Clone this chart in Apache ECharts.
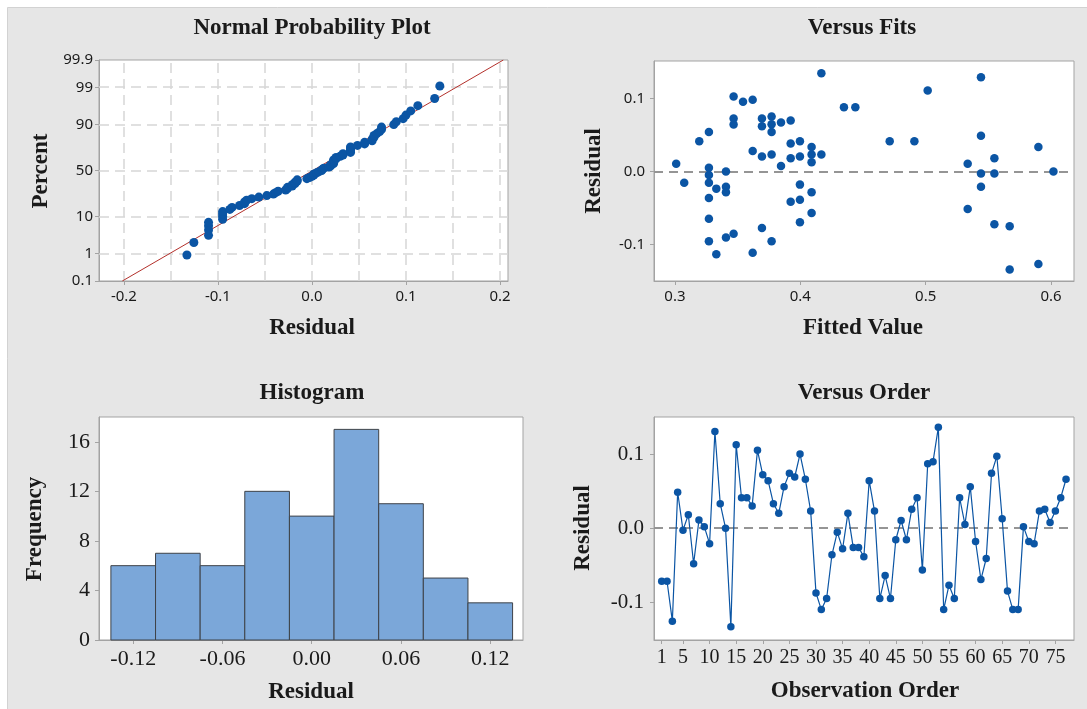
<!DOCTYPE html>
<html>
<head>
<meta charset="utf-8">
<script src="https://cdn.jsdelivr.net/npm/echarts@6/dist/echarts.min.js"></script>
<style>
  html, body { margin: 0; padding: 0; background: #fff; }
  #chart { width: 1087px; height: 709px; }
</style>
</head>
<body>
<div id="chart"></div>
<script>
// residuals in observation order
const orderResiduals = [
  -0.0717, -0.0717, -0.1256, 0.0484, -0.0027, 0.018, -0.048, 0.011, 0.002, -0.021,
  0.1305, 0.033, 0.0, -0.133, 0.1126, 0.041, 0.041, 0.030, 0.105, 0.072,
  0.064, 0.033, 0.020, 0.056, 0.074, 0.069, 0.100, 0.066, 0.023, -0.0874,
  -0.110, -0.095, -0.036, -0.0054, -0.028, 0.020, -0.026, -0.026, -0.0386, 0.064,
  0.023, -0.095, -0.064, -0.095, -0.0157, 0.0103, -0.0157, 0.0256, 0.041, -0.0565,
  0.087, 0.0897, 0.136, -0.110, -0.077, -0.095, 0.041, 0.005, 0.056, -0.018,
  -0.0695, -0.041, 0.074, 0.097, 0.0126, -0.085, -0.110, -0.110, 0.002, -0.018,
  -0.021, 0.023, 0.0256, 0.0076, 0.023, 0.041, 0.066
]

// versus fits points
const fittedValues = [
  0.301, 0.3074, 0.3194, 0.3271, 0.3271, 0.3271, 0.3271, 0.3271, 0.3271, 0.3271,
  0.333, 0.333, 0.3407, 0.3407, 0.3407, 0.3407, 0.3468, 0.3468, 0.3468, 0.3468,
  0.3543, 0.362, 0.362, 0.362, 0.3694, 0.3694, 0.3694, 0.3694, 0.3771, 0.3771,
  0.3771, 0.3771, 0.3771, 0.3846, 0.3846, 0.3923, 0.3923, 0.3923, 0.3923, 0.3997,
  0.3997, 0.3997, 0.3997, 0.3997, 0.409, 0.409, 0.409, 0.409, 0.409, 0.4168,
  0.4168, 0.4348, 0.4439, 0.4713, 0.491, 0.5016, 0.5335, 0.5335, 0.5441, 0.5441,
  0.5441, 0.5441, 0.5548, 0.5548, 0.5548, 0.567, 0.567, 0.5899, 0.5899, 0.6019
]
const fitResiduals = [
  0.0104, -0.0154, 0.0413, 0.054, 0.005, -0.005, -0.0154, -0.0363, -0.0649, -0.0957,
  -0.0236, -0.1138, 0.0, -0.0209, -0.0286, -0.0907, 0.103, 0.0726, 0.0644, -0.0857,
  0.0957, 0.0984, 0.0281, -0.1116, 0.0726, 0.0621, 0.0204, -0.0776, 0.0753, 0.0649,
  0.054, 0.0231, -0.0957, 0.0671, 0.0073, 0.0698, 0.0385, 0.0181, -0.0417, 0.0413,
  0.0204, -0.0181, -0.039, -0.0698, 0.0336, 0.0231, 0.0127, -0.0286, -0.0571, 0.1347,
  0.0231, 0.088, 0.088, 0.0413, 0.0413, 0.1111, 0.0104, -0.0517, 0.1293, 0.049,
  -0.0027, -0.0209, 0.0181, -0.0027, -0.0726, -0.0753, -0.1347, 0.0336, -0.127, 0.0
]

// histogram
const binCenters = [-0.12, -0.09, -0.06, -0.03, 0.0, 0.03, 0.06, 0.09, 0.12]
const binCounts = [6, 7, 6, 12, 10, 17, 11, 5, 3]
const binWidth = 0.03

// normal probability plot: fitted line ends and tick labels
const fitLineResid = [-0.2017, 0.2035]
const fitLinePct = [0.1, 99.9]
const pctTicks = [0.1, 1, 10, 50, 90, 99, 99.9]
const pctGrid = [1, 10, 50, 90, 99]
const residTicks = [-0.2, -0.1, 0.0, 0.1, 0.2]
const residGrid = [-0.2, -0.15, -0.1, -0.05, 0.0, 0.05, 0.1, 0.15, 0.2]

const fitTicks = [0.3, 0.4, 0.5, 0.6]
const residTicks3 = [-0.1, 0.0, 0.1]
const histTicks = [-0.12, -0.06, 0.0, 0.06, 0.12]
const freqTicks = [0, 4, 8, 12, 16]
const orderTicks = [1, 5, 10, 15, 20, 25, 30, 35, 40, 45, 50, 55, 60, 65, 70, 75]

// inverse normal cdf (Acklam), used as the probability scale
const normInv = (p) => {
  const a = [-39.69683028665376, 220.9460984245205, -275.9285104469687, 138.357751867269, -30.66479806614716, 2.506628277459239]
  const b = [-54.47609879822406, 161.5858368580409, -155.6989798598866, 66.80131188771972, -13.28068155288572]
  const c = [-0.007784894002430293, -0.3223964580411365, -2.400758277161838, -2.549732539343734, 4.374664141464968, 2.938163982698783]
  const d = [0.007784695709041462, 0.3224671290700398, 2.445134137142996, 3.754408661907416]
  const pl = 0.02425
  if (p < pl) {
    const q = Math.sqrt(-2 * Math.log(p))
    return (((((c[0] * q + c[1]) * q + c[2]) * q + c[3]) * q + c[4]) * q + c[5]) / ((((d[0] * q + d[1]) * q + d[2]) * q + d[3]) * q + 1)
  }
  if (p > 1 - pl) {
    const q = Math.sqrt(-2 * Math.log(1 - p))
    return -(((((c[0] * q + c[1]) * q + c[2]) * q + c[3]) * q + c[4]) * q + c[5]) / ((((d[0] * q + d[1]) * q + d[2]) * q + d[3]) * q + 1)
  }
  const q = p - 0.5
  const r = q * q
  return (((((a[0] * r + a[1]) * r + a[2]) * r + a[3]) * r + a[4]) * r + a[5]) * q / (((((b[0] * r + b[1]) * r + b[2]) * r + b[3]) * r + b[4]) * r + 1)
}
const zOf = (pct) => normInv(pct / 100)

// sorted residuals with median-rank plotting positions
const sortedResid = orderResiduals.slice().sort((x, y) => x - y)
const n = sortedResid.length
const probData = sortedResid.map((r, i) => [r, zOf((i + 1 - 0.3) / (n + 0.4) * 100)])

const BLUE = '#0b55a4'
const FRAME = '#a3a3a3'
const TEXT = '#1a1a1a'
const SERIF = '"Liberation Serif", "DejaVu Serif", serif'
const SANS = '"Noto Sans", "Open Sans", sans-serif'

const zMax = zOf(99.9)

const frame = { show: true, borderColor: FRAME, borderWidth: 1, backgroundColor: '#fff' }
const sansLabel = { fontFamily: SANS, fontSize: 15, color: TEXT }
const serifLabel = { fontFamily: SERIF, fontSize: 21, color: TEXT }
const tick = (values) => ({ show: true, customValues: values, length: 4, lineStyle: { color: FRAME } })
const line = { show: true, onZero: false, lineStyle: { color: FRAME } }

const textEl = (text, x, y, rotate) => ({
  type: 'text',
  x,
  y,
  rotation: rotate ? Math.PI / 2 : 0,
  style: {
    text,
    fill: TEXT,
    font: 'bold 23px ' + SERIF,
    textAlign: 'center',
    textVerticalAlign: 'middle'
  }
})

const chart = echarts.init(document.getElementById('chart'))
chart.setOption({
  animation: false,
  backgroundColor: '#fff',
  graphic: [
    { type: 'rect', z: -10, shape: { x: 7.5, y: 7.5, width: 1100, height: 720 }, style: { fill: '#e6e6e6', stroke: '#d2d2d2' } },
    textEl('Normal Probability Plot', 312, 28),
    textEl('Versus Fits', 862, 28),
    textEl('Histogram', 312, 393),
    textEl('Versus Order', 864, 393),
    textEl('Residual', 312, 328),
    textEl('Fitted Value', 863, 328),
    textEl('Residual', 311, 692),
    textEl('Observation Order', 865, 691),
    textEl('Percent', 41, 171, true),
    textEl('Residual', 594, 171, true),
    textEl('Frequency', 35, 529, true),
    textEl('Residual', 583, 528, true)
  ],
  grid: [
    { left: 99, top: 60, width: 409, height: 221, ...frame },
    { left: 654, top: 61, width: 420, height: 220, ...frame },
    { left: 99, top: 417, width: 424, height: 223, ...frame },
    { left: 654, top: 417, width: 420, height: 223, ...frame }
  ],
  xAxis: [
    {
      gridIndex: 0, type: 'value', min: -0.2265, max: 0.2085,
      axisLine: line, splitLine: { show: false }, axisTick: tick(residTicks),
      axisLabel: { ...sansLabel, customValues: residTicks, margin: 8, formatter: (v) => v.toFixed(1) }
    },
    {
      gridIndex: 1, type: 'value', min: 0.2833, max: 0.6183,
      axisLine: line, splitLine: { show: false }, axisTick: tick(fitTicks),
      axisLabel: { ...sansLabel, customValues: fitTicks, margin: 8, formatter: (v) => v.toFixed(1) }
    },
    {
      gridIndex: 2, type: 'value', min: -0.143, max: 0.142,
      axisLine: line, splitLine: { show: false }, axisTick: tick(histTicks),
      axisLabel: { ...serifLabel, fontSize: 22, customValues: histTicks, margin: 8, formatter: (v) => v.toFixed(2) }
    },
    {
      gridIndex: 3, type: 'value', min: -0.45, max: 78.5,
      axisLine: line, splitLine: { show: false }, axisTick: tick(orderTicks),
      axisLabel: { ...serifLabel, fontSize: 20, customValues: orderTicks, margin: 8 }
    }
  ],
  yAxis: [
    {
      gridIndex: 0, type: 'value', min: -zMax, max: zMax,
      axisLine: line, splitLine: { show: false }, axisTick: tick(pctTicks.map(zOf)),
      axisLabel: {
        ...sansLabel, customValues: pctTicks.map(zOf), margin: 6,
        formatter: (v) => {
          let best = 0
          pctTicks.forEach((p, i) => { if (Math.abs(zOf(p) - v) < Math.abs(zOf(pctTicks[best]) - v)) best = i })
          return String(pctTicks[best])
        }
      }
    },
    {
      gridIndex: 1, type: 'value', min: -0.1504, max: 0.1516,
      axisLine: line, splitLine: { show: false }, axisTick: tick(residTicks3),
      axisLabel: { ...sansLabel, customValues: residTicks3, margin: 9, formatter: (v) => v.toFixed(1) }
    },
    {
      gridIndex: 2, type: 'value', min: 0, max: 18,
      axisLine: line, splitLine: { show: false }, axisTick: tick(freqTicks),
      axisLabel: { ...serifLabel, fontSize: 22, customValues: freqTicks, margin: 9 }
    },
    {
      gridIndex: 3, type: 'value', min: -0.151, max: 0.150,
      axisLine: line, splitLine: { show: false }, axisTick: tick(residTicks3),
      axisLabel: { ...serifLabel, fontSize: 21, customValues: residTicks3, margin: 10, formatter: (v) => v.toFixed(1) }
    }
  ],
  series: [
    {
      // dashed reference grid of the probability plot
      type: 'line', xAxisIndex: 0, yAxisIndex: 0, data: [], z: 1, silent: true,
      markLine: {
        z: 1, silent: true, symbol: ['none', 'none'], label: { show: false },
        lineStyle: { color: '#d6d6d6', width: 1.5, type: [10, 6] },
        data: [
          ...pctGrid.map((p) => ({ yAxis: zOf(p) })),
          ...residGrid.map((r) => ({ xAxis: r }))
        ]
      }
    },
    {
      type: 'line', xAxisIndex: 0, yAxisIndex: 0, z: 2, symbol: 'none', silent: true,
      lineStyle: { color: '#b3302b', width: 1 },
      data: fitLineResid.map((r, i) => [r, zOf(fitLinePct[i])])
    },
    {
      type: 'scatter', xAxisIndex: 0, yAxisIndex: 0, z: 10,
      symbolSize: 9, itemStyle: { color: BLUE, opacity: 1 },
      data: probData
    },
    {
      type: 'line', xAxisIndex: 1, yAxisIndex: 1, data: [], z: 1, silent: true,
      markLine: {
        z: 1, silent: true, symbol: ['none', 'none'], label: { show: false },
        lineStyle: { color: '#959595', width: 2, type: [9, 6] },
        data: [{ yAxis: 0 }]
      }
    },
    {
      type: 'scatter', xAxisIndex: 1, yAxisIndex: 1, z: 10,
      symbolSize: 8.5, itemStyle: { color: BLUE, opacity: 1 },
      data: fittedValues.map((f, i) => [f, fitResiduals[i]])
    },
    {
      type: 'custom', xAxisIndex: 2, yAxisIndex: 2,
      data: binCenters.map((c, i) => [c, binCounts[i]]),
      renderItem: (params, api) => {
        const c = api.value(0)
        const p0 = api.coord([c - binWidth / 2, api.value(1)])
        const p1 = api.coord([c + binWidth / 2, 0])
        return {
          type: 'rect',
          shape: { x: p0[0], y: p0[1], width: p1[0] - p0[0], height: p1[1] - p0[1] },
          style: { fill: '#7ba7d9', stroke: '#3e4248', lineWidth: 1 }
        }
      }
    },
    {
      type: 'line', xAxisIndex: 3, yAxisIndex: 3, data: [], z: 1, silent: true,
      markLine: {
        z: 1, silent: true, symbol: ['none', 'none'], label: { show: false },
        lineStyle: { color: '#959595', width: 2, type: [9, 6] },
        data: [{ yAxis: 0 }]
      }
    },
    {
      type: 'line', xAxisIndex: 3, yAxisIndex: 3, z: 10,
      symbol: 'circle', symbolSize: 7.5, showAllSymbol: true,
      lineStyle: { color: BLUE, width: 1.2 },
      itemStyle: { color: BLUE },
      data: orderResiduals.map((r, i) => [i + 1, r])
    }
  ]
})
</script>
</body>
</html>
